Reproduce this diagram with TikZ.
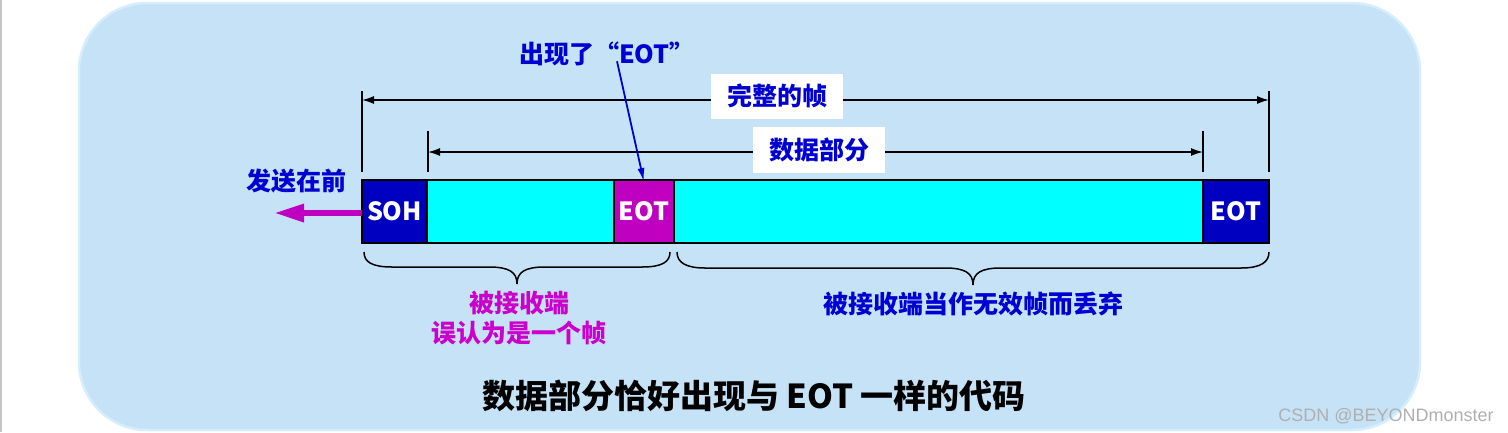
\documentclass[tikz,border=0pt]{standalone}
\usepackage{fontspec}
\setmainfont{Noto Sans CJK SC}
\newfontfamily\wmfont{Liberation Sans}
\usetikzlibrary{arrows.meta}
\definecolor{bgblue}{RGB}{197,226,246}
\definecolor{bgrim}{RGB}{214,237,252}
\definecolor{hdrblue}{RGB}{0,0,192}
\definecolor{eotmag}{RGB}{192,0,192}
\definecolor{txtblue}{RGB}{0,0,210}
\definecolor{txtmag}{RGB}{204,0,204}
\definecolor{datacyan}{RGB}{0,255,255}
\definecolor{wmgray}{RGB}{175,175,175}
\begin{document}
\begin{tikzpicture}[x=1pt,y=-1pt,
  cell/.style={draw=black, line width=2pt, minimum height=63pt, inner sep=0pt, outer sep=0pt,
    anchor=north west, text=white, font=\fontsize{25}{30}\selectfont\bfseries},
  lbl/.style={font=\fontsize{25}{30}\selectfont\bfseries, inner sep=0pt},
  dimline/.style={line width=1.5pt, {Latex[length=12pt,width=8pt]}-{Latex[length=12pt,width=8pt]}},
  tickline/.style={line width=1.8pt},
  bracepath/.style={line width=1.5pt},
  whitebox/.style={fill=white, minimum width=132pt, minimum height=45pt, inner sep=0pt,
    text=txtblue, font=\fontsize{25}{30}\selectfont\bfseries}
]
\useasboundingbox (0,0) rectangle (1508,432);
% background
\fill[gray!45] (0,0) rectangle (1.5,432);
\fill[bgblue, draw=bgrim, line width=2.5pt, rounded corners=68pt] (79,3) rectangle (1420,430);

% frame cells
\node[cell, fill=hdrblue, minimum width=65pt] (soh) at (362,180) {SOH};
\node[cell, fill=datacyan, minimum width=187pt] (data1) at (427,180) {};
\node[cell, fill=eotmag, minimum width=60pt] (eot1) at (614,180) {EOT};
\node[cell, fill=datacyan, minimum width=529pt] (data2) at (674,180) {};
\node[cell, fill=hdrblue, minimum width=66pt] (eot2) at (1203,180) {EOT};

% dimension ticks
\coordinate (fl) at (362,100);
\coordinate (fr) at (1269,100);
\coordinate (dl) at (428,152);
\coordinate (dr) at (1203,152);
\draw[tickline] (362,91) -- (362,172);
\draw[tickline] (1269,91) -- (1269,172);
\draw[tickline] (428,131) -- (428,172);
\draw[tickline] (1203,131) -- (1203,172);
\draw[dimline] (fl) -- (fr);
\draw[dimline] (dl) -- (dr);
\node[whitebox] (full) at (777,96) {完整的帧};
\node[whitebox, minimum height=46pt] (datalbl) at (819,150) {数据部分};

% EOT appears label
\node[lbl, text=txtblue] (eotlbl) at (607,54) {出现了“EOT”};
\draw[txtblue, line width=1.8pt, -{Latex[length=14pt,width=7pt]}] ([xshift=10pt,yshift=5pt]eotlbl.south) -- ([yshift=-2pt]eot1.north);

% send first
\node[lbl, text=txtblue] (send) at (296,181) {发送在前};
\coordinate (sendtip) at (274,213);
\draw[eotmag, line width=6pt, -{Triangle[length=30pt,width=17pt]}] (soh.west |- sendtip) -- (sendtip);

% braces
\draw[bracepath] (364,252) .. controls (364,262) and (372,267) .. (392,267) -- (489,267)
  .. controls (509,267) and (517,272) .. (517,284)
  .. controls (517,272) and (525,267) .. (545,267) -- (642,267)
  .. controls (662,267) and (670,262) .. (670,252);
\draw[bracepath] (677,252) .. controls (677,262) and (685,268) .. (705,268) -- (945,268)
  .. controls (965,268) and (973,273) .. (973,285)
  .. controls (973,273) and (981,268) .. (1001,268) -- (1241,268)
  .. controls (1261,268) and (1269,262) .. (1269,252);

\node[lbl, text=txtmag, align=center] (wrong) at (519,318) {被接收端\\误认为是一个帧};
\node[lbl, text=txtblue] (discard) at (973,304) {被接收端当作无效帧而丢弃};

% caption
\node[font=\fontsize{33}{38}\selectfont\bfseries, inner sep=0pt] (caption) at (754,396) {数据部分恰好出现与 EOT 一样的代码};

% watermark
\node[font=\wmfont\fontsize{18}{20}\selectfont, text=wmgray, inner sep=0pt] (wm) at (1386,416) {CSDN @BEYONDmonster};
\end{tikzpicture}
\end{document}
